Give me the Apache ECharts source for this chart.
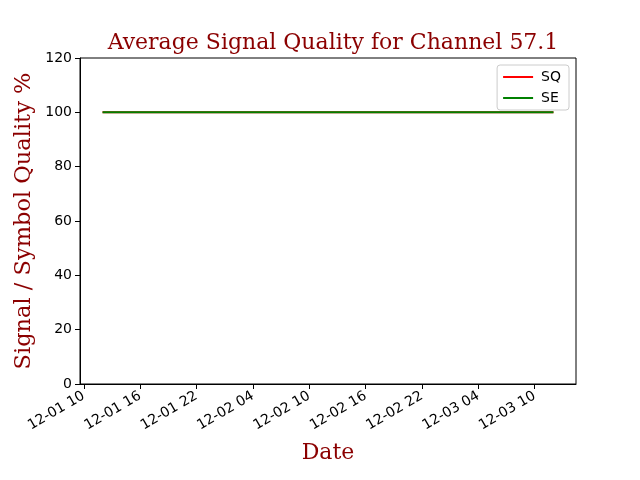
<!DOCTYPE html>
<html>
<head>
<meta charset="utf-8">
<script src="https://cdn.jsdelivr.net/npm/echarts@6/dist/echarts.min.js"></script>
<style>
  html, body { margin: 0; padding: 0; background: #fff; }
  #main { width: 640px; height: 480px; }
</style>
</head>
<body>
<div id="main"></div>
<script>
// readings (all flat at 100%)
const times = ['2023-12-01T12:00', '2023-12-01T18:00', '2023-12-02T00:00', '2023-12-02T06:00',
  '2023-12-02T12:00', '2023-12-02T18:00', '2023-12-03T00:00', '2023-12-03T06:00', '2023-12-03T12:00'];
const sqValues = [100, 100, 100, 100, 100, 100, 100, 100, 100];
const seValues = [100, 100, 100, 100, 100, 100, 100, 100, 100];
const tickTimes = ['2023-12-01T10:00', '2023-12-01T16:00', '2023-12-01T22:00', '2023-12-02T04:00',
  '2023-12-02T10:00', '2023-12-02T16:00', '2023-12-02T22:00', '2023-12-03T04:00', '2023-12-03T10:00'];
const xMin = '2023-12-01T09:36';
const xMax = '2023-12-03T14:24';

const ts = s => new Date(s).getTime();
const pad = n => (n < 10 ? '0' : '') + n;
const fmt = v => {
  const d = new Date(v);
  return pad(d.getMonth() + 1) + '-' + pad(d.getDate()) + ' ' + pad(d.getHours());
};

const serif = 'DejaVu Serif';
const sans = 'DejaVu Sans';
const red = '#8b0000';

var myChart = echarts.init(document.getElementById('main'));
myChart.setOption({
  animation: false,
  title: {
    text: 'Average Signal Quality for Channel 57.1',
    left: 328,
    textAlign: 'center',
    top: 27,
    textStyle: { fontFamily: serif, fontSize: 22, fontWeight: 'normal', color: red }
  },
  legend: {
    orient: 'vertical',
    right: 71,
    top: 65,
    padding: [5, 8, 5, 6],
    itemGap: 7,
    itemWidth: 30,
    itemHeight: 2,
    icon: 'rect',
    borderColor: '#cccccc',
    borderWidth: 1,
    borderRadius: 3,
    backgroundColor: 'rgba(255,255,255,0.8)',
    textStyle: { fontFamily: sans, fontSize: 14, color: '#000', padding: [0, 0, 0, 3] },
    data: ['SQ', 'SE']
  },
  grid: {
    left: 80, right: 64, top: 58, bottom: 96,
    show: true, borderColor: '#000', borderWidth: 1, backgroundColor: '#fff'
  },
  xAxis: {
    type: 'value',
    min: ts(xMin),
    max: ts(xMax),
    name: 'Date',
    nameLocation: 'middle',
    nameGap: 58,
    nameTextStyle: { fontFamily: serif, fontSize: 22, color: red },
    axisLine: { onZero: false, lineStyle: { color: '#000', width: 1 } },
    axisTick: { show: true, inside: false, length: 5, lineStyle: { color: '#000' }, customValues: tickTimes.map(ts) },
    axisLabel: {
      rotate: 30, fontFamily: sans, fontSize: 14, color: '#000', margin: 11,
      customValues: tickTimes.map(ts), formatter: v => fmt(v)
    },
    splitLine: { show: false }
  },
  yAxis: {
    type: 'value',
    min: 0, max: 120, interval: 20,
    name: 'Signal / Symbol Quality %',
    nameLocation: 'middle',
    nameMoveOverlap: false,
    nameGap: 44,
    nameTextStyle: { fontFamily: serif, fontSize: 22.5, color: red },
    axisLine: { show: true, lineStyle: { color: '#000', width: 1 } },
    axisTick: { show: true, inside: false, length: 5, lineStyle: { color: '#000' } },
    axisLabel: { fontFamily: sans, fontSize: 14, color: '#000', margin: 8 },
    splitLine: { show: false }
  },
  series: [
    {
      name: 'SQ', type: 'line', showSymbol: false, symbol: 'none',
      color: '#ff0000', lineStyle: { width: 2 },
      data: times.map((t, i) => [ts(t), sqValues[i]])
    },
    {
      name: 'SE', type: 'line', showSymbol: false, symbol: 'none',
      color: '#008000', lineStyle: { width: 2 },
      data: times.map((t, i) => [ts(t), seValues[i]])
    }
  ]
});
</script>
</body>
</html>
